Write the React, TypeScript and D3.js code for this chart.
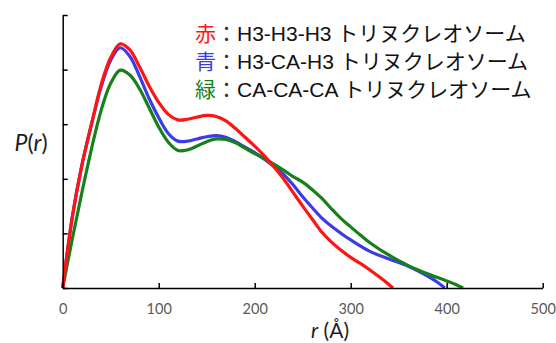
import React, { useRef, useEffect } from 'react'
import * as d3 from 'd3'

// r (Å) sample positions and P(r) values
const rRed = [0, 10, 20, 30, 40, 50, 60, 70, 80, 90, 100, 110, 120, 130, 140, 150, 160, 170, 180, 190, 200, 210, 220, 230, 240, 250, 260, 270, 280, 290, 300, 310, 320, 330, 340, 344]
const pRed = [0, 1.3, 2.25, 3.0, 3.72, 4.22, 4.47, 4.36, 4.05, 3.7, 3.4, 3.18, 3.08, 3.09, 3.13, 3.16, 3.14, 3.06, 2.92, 2.76, 2.6, 2.42, 2.22, 2.0, 1.75, 1.5, 1.26, 1.02, 0.84, 0.69, 0.56, 0.45, 0.33, 0.2, 0.06, 0]

const rBlue = [0, 10, 20, 30, 40, 50, 60, 70, 80, 90, 100, 110, 120, 130, 140, 150, 160, 170, 180, 190, 200, 210, 220, 230, 240, 250, 260, 270, 280, 290, 300, 320, 340, 360, 380, 390, 398]
const pBlue = [0, 1.3, 2.25, 3.0, 3.68, 4.17, 4.4, 4.24, 3.88, 3.47, 3.12, 2.83, 2.69, 2.69, 2.73, 2.77, 2.79, 2.76, 2.68, 2.58, 2.48, 2.36, 2.23, 2.08, 1.89, 1.67, 1.47, 1.28, 1.13, 1.0, 0.88, 0.67, 0.53, 0.4, 0.22, 0.11, 0]

const rGreen = [0, 10, 20, 30, 40, 50, 60, 70, 80, 90, 100, 110, 120, 130, 140, 150, 160, 170, 180, 190, 200, 210, 220, 230, 240, 250, 260, 270, 280, 290, 300, 310, 320, 340, 360, 380, 400, 410, 417]
const pGreen = [0, 0.9, 1.75, 2.55, 3.25, 3.75, 3.99, 3.9, 3.65, 3.3, 2.95, 2.67, 2.52, 2.53, 2.6, 2.68, 2.73, 2.72, 2.66, 2.56, 2.46, 2.37, 2.27, 2.16, 2.04, 1.94, 1.8, 1.64, 1.45, 1.27, 1.12, 0.97, 0.83, 0.6, 0.41, 0.26, 0.13, 0.06, 0]

const xTicks = [0, 100, 200, 300, 400, 500]
const yTicks = [0, 1, 2, 3, 4, 5]

const legendMarks = ['赤', '青', '緑']
const legendCodes = ['H3-H3-H3', 'H3-CA-H3', 'CA-CA-CA']
const legendName = 'トリヌクレオソーム'
const colors = ['#ff1414', '#3c3ce6', '#17801a']

export default function App() {
  const ref = useRef<SVGSVGElement>(null)
  const layout = { width: 556, height: 343, left: 62.7, right: 542.7, top: 15, bottom: 288 }

  useEffect(() => {
    const svg = d3.select(ref.current)
    const x = d3.scaleLinear().domain([0, 500]).range([layout.left, layout.right])
    const y = d3.scaleLinear().domain([0, 5]).range([layout.bottom, layout.top])

    const series = [
      { r: rBlue, p: pBlue, color: colors[1] },
      { r: rGreen, p: pGreen, color: colors[2] },
      { r: rRed, p: pRed, color: colors[0] },
    ]
    const line = d3.line<[number, number]>()
      .x(d => x(d[0]))
      .y(d => y(d[1]))
      .curve(d3.curveCatmullRom.alpha(0.5))

    svg.select('#lines')
      .selectAll('path')
      .data(series)
      .join('path')
      .attr('d', s => line(s.r.map((v, i) => [v, s.p[i]] as [number, number])))
      .attr('fill', 'none')
      .attr('stroke', s => s.color)
      .attr('stroke-width', 3.2)
      .attr('stroke-linejoin', 'round')

    const xAxis = svg.select<SVGGElement>('#x-axis')
      .attr('transform', `translate(0, ${layout.bottom})`)
      .call(d3.axisBottom(x).tickValues(xTicks).tickSizeInner(-5).tickSizeOuter(0).tickPadding(16))
    xAxis.select('.domain').attr('stroke', '#000').attr('stroke-width', 1.5)
    xAxis.selectAll('.tick line').attr('stroke', '#000').attr('stroke-width', 1.5)
    xAxis.selectAll('.tick text')
      .attr('fill', '#595959')
      .attr('font-family', 'Lato, "Open Sans", sans-serif')
      .attr('font-size', 14.5)

    const yAxis = svg.select<SVGGElement>('#y-axis')
      .attr('transform', `translate(${layout.left}, 0)`)
      .call(d3.axisLeft(y).tickValues(yTicks).tickSizeInner(-5).tickSizeOuter(0).tickFormat(() => ''))
    yAxis.select('.domain').attr('stroke', '#000').attr('stroke-width', 1.5)
    yAxis.selectAll('.tick line').attr('stroke', '#000').attr('stroke-width', 1.5)
  }, [])

  return (
    <svg ref={ref} width={layout.width} height={layout.height}
      style={{ position: 'absolute', left: 0, top: 0, background: '#fff' }}>
      <g id="lines" />
      <g id="x-axis" />
      <g id="y-axis" />
      <g id="legend">
        {legendCodes.map((code, i) => (
          <text key={code} x={195} y={41 + i * 28} fontSize={21}
            fontFamily='"Liberation Sans", "Noto Sans CJK JP", sans-serif' fill="#111">
            <tspan fill={colors[i]} fontFamily='"Noto Sans CJK JP"'>{legendMarks[i]}</tspan>
            <tspan fill="#333" fontFamily='"Noto Sans CJK JP"'>：</tspan>
            <tspan>{code + ' '}</tspan>
            <tspan fontFamily='"Noto Sans CJK JP"'>{legendName}</tspan>
          </text>
        ))}
      </g>
      <text x={31} y={151} textAnchor="middle" fontSize={23} fill="#1c1c28"
        fontFamily='Lato, "Open Sans", sans-serif'>
        <tspan fontStyle="italic">P</tspan>(<tspan fontStyle="italic">r</tspan>)
      </text>
      <text x={330} y={338} textAnchor="middle" fontSize={21} fill="#1c1c28"
        fontFamily='Lato, "Open Sans", sans-serif'>
        <tspan fontStyle="italic">r</tspan> (Å)
      </text>
    </svg>
  )
}
